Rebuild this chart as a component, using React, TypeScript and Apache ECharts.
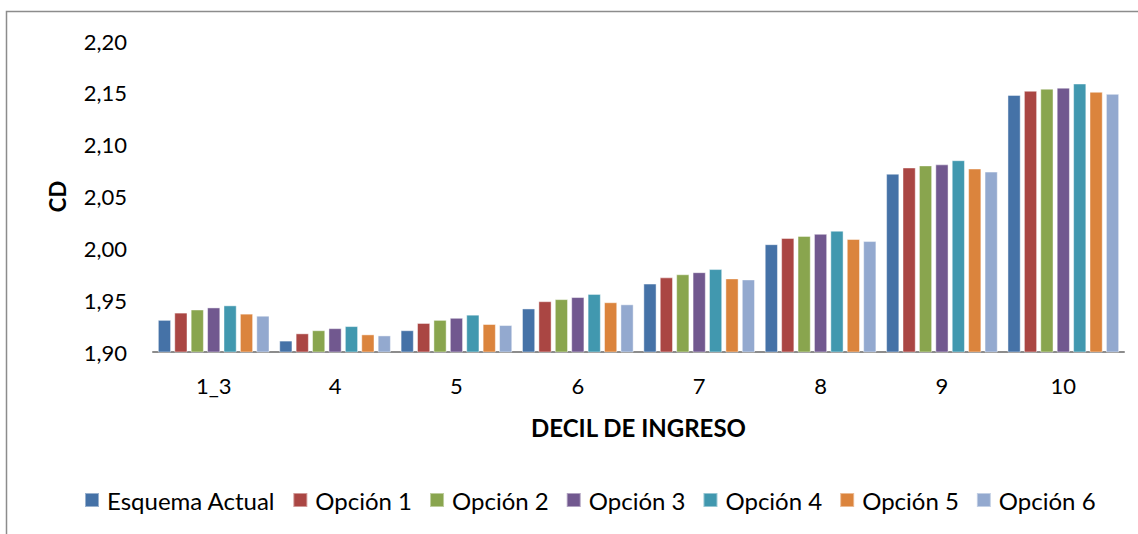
import React, { useEffect, useRef } from "react";
import * as echarts from "echarts";

const categories = ["1_3", "4", "5", "6", "7", "8", "9", "10"];
const seriesNames = ["Esquema Actual", "Opción 1", "Opción 2", "Opción 3", "Opción 4", "Opción 5", "Opción 6"];
const esquemaActual = [1.931, 1.911, 1.921, 1.942, 1.966, 2.004, 2.072, 2.148];
const opcion1 = [1.938, 1.918, 1.928, 1.949, 1.972, 2.010, 2.078, 2.152];
const opcion2 = [1.941, 1.921, 1.931, 1.951, 1.975, 2.012, 2.080, 2.154];
const opcion3 = [1.943, 1.923, 1.933, 1.953, 1.977, 2.014, 2.081, 2.155];
const opcion4 = [1.945, 1.925, 1.936, 1.956, 1.980, 2.017, 2.085, 2.159];
const opcion5 = [1.937, 1.917, 1.927, 1.948, 1.971, 2.009, 2.077, 2.151];
const opcion6 = [1.935, 1.916, 1.926, 1.946, 1.970, 2.007, 2.074, 2.149];
const seriesValues = [esquemaActual, opcion1, opcion2, opcion3, opcion4, opcion5, opcion6];
const colors = ["#4572A7", "#AA4643", "#89A54E", "#71588F", "#4198AF", "#DB843D", "#93A9CF"];

const FONT = "Lato, 'Open Sans', sans-serif";

export default function App() {
  const ref = useRef<HTMLDivElement>(null);
  useEffect(() => {
    if (!ref.current) return;
    const chart = echarts.init(ref.current, null, { renderer: "svg" });
    chart.setOption({
      animation: false,
      color: colors,
      textStyle: { fontFamily: FONT },
      graphic: [
        {
          type: "rect",
          shape: { x: 6.5, y: 11.5, width: 1300, height: 700 },
          style: { fill: "none", stroke: "#8c8c8c", lineWidth: 1.5 },
          silent: true,
        },
      ],
      grid: { left: 153, right: 14, top: 41, bottom: 182 },
      legend: {
        left: 79,
        top: 483,
        itemWidth: 14,
        itemHeight: 14,
        itemGap: 17,
        icon: "rect",
        textStyle: { fontSize: 24, color: "#000", fontFamily: FONT, padding: [0, 0, 0, 3] },
        data: seriesNames,
      },
      xAxis: {
        type: "category",
        data: categories,
        name: "DECIL DE INGRESO",
        nameLocation: "middle",
        nameGap: 63,
        nameTextStyle: { fontSize: 24, fontWeight: "bold", color: "#000", fontFamily: FONT },
        axisLine: { lineStyle: { color: "#8c8c8c", width: 2 } },
        axisTick: { show: false },
        axisLabel: { fontSize: 22, color: "#000", margin: 22, fontFamily: FONT },
      },
      yAxis: {
        type: "value",
        min: 1.9,
        max: 2.2,
        interval: 0.05,
        name: "CD",
        nameLocation: "middle",
        nameRotate: 90,
        nameGap: 85,
        nameTextStyle: { fontSize: 22, fontWeight: "bold", color: "#000", fontFamily: FONT },
        axisLine: { show: false },
        axisTick: { show: false },
        splitLine: { show: false },
        axisLabel: {
          fontSize: 22,
          color: "#000",
          margin: 26,
          fontFamily: FONT,
          formatter: (v: number) => v.toFixed(2).replace(".", ","),
        },
      },
      series: seriesNames.map((name, i) => ({
        name,
        type: "bar",
        data: seriesValues[i],
        barCategoryGap: "8%",
        barGap: "24%",
        itemStyle: {
          color: colors[i],
          borderColor: "rgba(255,255,255,0.45)",
          borderWidth: 1,
        },
      })),
    });
    return () => chart.dispose();
  }, []);
  return <div ref={ref} style={{ position: "fixed", left: 0, top: 0, width: 1138, height: 534, background: "#fff" }} />;
}
